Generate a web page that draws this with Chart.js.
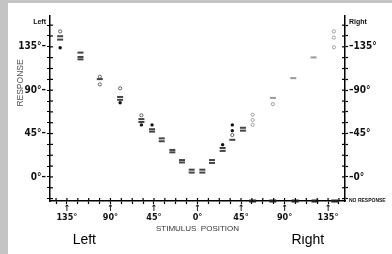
<!DOCTYPE html>
<html>
<head>
<meta charset="utf-8">
<script src="https://cdn.jsdelivr.net/npm/chart.js@4.4.1/dist/chart.umd.min.js"></script>
<style>
html, body { margin: 0; padding: 0; width: 392px; height: 254px; overflow: hidden; background: #c4c4c4; }
#panel { position: absolute; left: 8px; top: 3px; width: 384px; height: 251px; background: #fff; }
canvas { display: block; }
</style>
</head>
<body>
<div id="panel"><canvas id="chart" width="384" height="251"></canvas></div>
<script>
// axis tick setup (degrees)
var tickStep = 11.25;
var xTickValues = [-135, -90, -45, 0, 45, 90, 135];
var xTickLabels = ['135°', '90°', '45°', '0°', '45°', '90°', '135°'];
var yTickValues = [0, 45, 90, 135];
var yTickLabels = ['0°', '45°', '90°', '135°'];
var sideLabels = ['Left', 'Right'];
var sideLabelX = [-117, 114];
var topLabelLevel = 161;
var noResponseLevel = -25;

// stimulus position (negative = left) / response
var filledX = [-142, -80, -58, -47, 26, 36, 36];
var filledY = [134, 77, 54, 54, 33.5, 54, 48];

var openX = [-142, -101, -101, -80, -58, 36, 57, 57, 57, 78, 141, 141, 141];
var openY = [151, 104, 96, 92, 64, 43.5, 64.5, 59, 54, 75.5, 151, 144.5, 134.5];

var barX = [-142, -142, -121, -121, -121, -101, -80, -80, -58, -58, -47, -47, -37, -37, -26, -26,
            -16, -16, -6, -6, 5, 5, 15, 15, 26, 26, 36, 47, 47, 78, 99, 120];
var barY = [146, 142.5, 129, 124.5, 122, 101.5, 83, 80, 60, 57, 49.5, 47, 40, 37, 28, 25.5,
            17.5, 15, 7.5, 4.5, 7.5, 4.5, 17.5, 14.5, 30, 27, 38.5, 51, 48, 82, 102.5, 124];

var noRespX = [57, 78, 101, 121.5, 142];

function pts(xs, ys) {
    return xs.map(function (x, i) { return { x: x, y: ys[i] }; });
}

function faint(dark, light) {
    return function (c) {
        var p = c.raw;
        return p && p.x > 50 ? light : dark;
    };
}

function minorTicks(from, to) {
    var t = [];
    for (var v = from; v <= to + 0.01; v += tickStep) t.push({ value: v });
    return t;
}

var tickFont = { family: "'Liberation Sans Narrow', 'DejaVu Sans Condensed', sans-serif", weight: 'bold', size: 10 };
var smallFont = { family: "'Liberation Sans', sans-serif", weight: 'bold', size: 7 };

// short tick marks on the inner side of each axis
var innerTicks = {
    id: 'innerTicks',
    afterDatasetsDraw: function (chart) {
        var ctx = chart.ctx, a = chart.chartArea;
        ctx.save();
        ctx.strokeStyle = '#000';
        ctx.lineWidth = 1.2;
        ['x', 'y', 'yR'].forEach(function (id) {
            var s = chart.scales[id];
            s.ticks.forEach(function (t) {
                if (t.value === topLabelLevel || t.value === noResponseLevel) return;
                var p = s.getPixelForValue(t.value);
                ctx.beginPath();
                if (id === 'x') { ctx.moveTo(p, a.bottom); ctx.lineTo(p, a.bottom - 3); }
                else if (id === 'y') { ctx.moveTo(a.left, p); ctx.lineTo(a.left + 3, p); }
                else { ctx.moveTo(a.right, p); ctx.lineTo(a.right - 3, p); }
                ctx.stroke();
            });
        });
        ctx.restore();
    }
};

function yAxis(side) {
    return {
        type: 'linear',
        position: side,
        min: noResponseLevel,
        max: 167,
        border: { display: true, color: '#000', width: 1.5 },
        grid: {
            drawOnChartArea: false,
            tickLength: 3,
            tickWidth: 1.2,
            tickColor: function (c) {
                var v = c.tick && c.tick.value;
                return (v === topLabelLevel || v === noResponseLevel) ? 'rgba(0,0,0,0)' : '#000';
            }
        },
        afterBuildTicks: function (s) {
            var t = minorTicks(-22.5, 157.5);
            t.push({ value: topLabelLevel });
            if (side === 'right') t.unshift({ value: noResponseLevel });
            s.ticks = t;
        },
        afterFit: function (s) { s.width = side === 'left' ? 42 : 47; },
        ticks: {
            autoSkip: false,
            padding: 1,
            color: '#111',
            font: function (c) {
                var v = c.tick && c.tick.value;
                if (v === noResponseLevel) return { family: "'Liberation Sans', sans-serif", weight: 'bold', size: 5 };
                if (v === topLabelLevel) return smallFont;
                return tickFont;
            },
            callback: function (v) {
                if (v === topLabelLevel) return side === 'left' ? sideLabels[0] : sideLabels[1];
                if (v === noResponseLevel) return 'NO RESPONSE';
                var i = yTickValues.indexOf(v);
                if (i < 0) return '';
                return side === 'left' ? yTickLabels[i] + '–' : '–' + yTickLabels[i];
            }
        },
        title: side === 'left' ? {
            display: true,
            text: '\u2003\u2003\u2003\u2003\u2003\u2003RESPONSE',
            color: '#555',
            font: { family: "'Liberation Sans', sans-serif", size: 8.5 },
            padding: { top: 8, bottom: 0 }
        } : { display: false }
    };
}

new Chart(document.getElementById('chart'), {
    type: 'scatter',
    data: {
        datasets: [
            {
                label: 'paired',
                data: pts(barX, barY),
                pointStyle: 'line',
                radius: 3,
                borderWidth: 2,
                borderColor: faint('#444', '#999')
            },
            {
                label: 'open',
                data: pts(openX, openY),
                pointStyle: 'circle',
                radius: 1.6,
                borderWidth: 0.9,
                backgroundColor: '#fff',
                borderColor: faint('#555', '#999')
            },
            {
                label: 'filled',
                data: pts(filledX, filledY),
                pointStyle: 'circle',
                radius: 1.7,
                borderWidth: 0,
                backgroundColor: '#111'
            },
            {
                label: 'no response',
                data: noRespX.map(function (x) { return { x: x, y: noResponseLevel }; }),
                pointStyle: 'line',
                radius: 3.5,
                borderWidth: 3,
                borderColor: '#222',
                clip: false
            }
        ]
    },
    options: {
        responsive: false,
        animation: false,
        events: [],
        layout: { padding: { top: 13, right: 0, bottom: 0, left: 0 } },
        plugins: { legend: { display: false }, tooltip: { enabled: false } },
        scales: {
            x: {
                type: 'linear',
                position: 'bottom',
                min: -152.5,
                max: 152.5,
                border: { display: true, color: '#000', width: 1.5 },
                grid: { drawOnChartArea: false, tickLength: 3, tickWidth: 1.2, tickColor: '#000' },
                afterBuildTicks: function (s) { s.ticks = minorTicks(-146.25, 146.25); },
                afterFit: function (s) { s.height = 33; },
                ticks: {
                    autoSkip: false,
                    maxRotation: 0,
                    padding: 0,
                    color: '#111',
                    font: { family: "'Liberation Sans Narrow', 'DejaVu Sans Condensed', sans-serif", weight: 'bold', size: 9, lineHeight: 1 },
                    callback: function (v) {
                        var i = xTickValues.indexOf(v);
                        return i < 0 ? '' : ['↑', xTickLabels[i]];
                    }
                },
                title: {
                    display: true,
                    text: 'STIMULUS  POSITION',
                    color: '#333',
                    font: { family: "'Liberation Sans', sans-serif", size: 8 },
                    padding: 0
                }
            },
            x2: {
                type: 'linear',
                position: 'bottom',
                min: -152.5,
                max: 152.5,
                grid: { display: false },
                border: { display: false },
                afterBuildTicks: function (s) {
                    s.ticks = sideLabelX.map(function (v) { return { value: v }; });
                },
                afterFit: function (s) { s.height = 20; },
                ticks: {
                    autoSkip: false,
                    maxRotation: 0,
                    padding: -10,
                    color: '#000',
                    font: { family: "'Liberation Sans', Arial, sans-serif", size: 14 },
                    callback: function (v) {
                        var i = sideLabelX.indexOf(v);
                        return i < 0 ? '' : sideLabels[i];
                    }
                }
            },
            y: yAxis('left'),
            yR: yAxis('right')
        }
    },
    plugins: [innerTicks]
});
</script>
</body>
</html>
